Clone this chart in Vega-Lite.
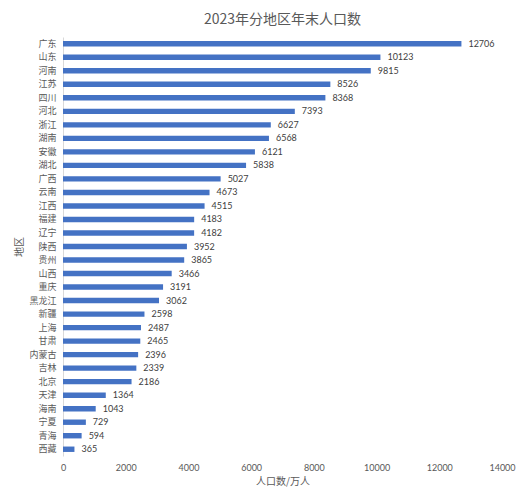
{
  "$schema": "https://vega.github.io/schema/vega-lite/v6.json",
  "autosize": "none",
  "padding": {"left": 63, "top": 37, "right": 23, "bottom": 44},
  "width": 439,
  "height": 419,
  "background": "white",
  "title": {
    "text": "2023年分地区年末人口数",
    "font": "Noto Sans CJK SC",
    "fontSize": 14,
    "fontWeight": "normal",
    "color": "#595959",
    "anchor": "middle",
    "offset": 10
  },
  "config": {"view": {"stroke": null}},
  "data": {
    "values": [
      {"region": "广东", "pop": 12706},
      {"region": "山东", "pop": 10123},
      {"region": "河南", "pop": 9815},
      {"region": "江苏", "pop": 8526},
      {"region": "四川", "pop": 8368},
      {"region": "河北", "pop": 7393},
      {"region": "浙江", "pop": 6627},
      {"region": "湖南", "pop": 6568},
      {"region": "安徽", "pop": 6121},
      {"region": "湖北", "pop": 5838},
      {"region": "广西", "pop": 5027},
      {"region": "云南", "pop": 4673},
      {"region": "江西", "pop": 4515},
      {"region": "福建", "pop": 4183},
      {"region": "辽宁", "pop": 4182},
      {"region": "陕西", "pop": 3952},
      {"region": "贵州", "pop": 3865},
      {"region": "山西", "pop": 3466},
      {"region": "重庆", "pop": 3191},
      {"region": "黑龙江", "pop": 3062},
      {"region": "新疆", "pop": 2598},
      {"region": "上海", "pop": 2487},
      {"region": "甘肃", "pop": 2465},
      {"region": "内蒙古", "pop": 2396},
      {"region": "吉林", "pop": 2339},
      {"region": "北京", "pop": 2186},
      {"region": "天津", "pop": 1364},
      {"region": "海南", "pop": 1043},
      {"region": "宁夏", "pop": 729},
      {"region": "青海", "pop": 594},
      {"region": "西藏", "pop": 365}
    ]
  },
  "encoding": {
    "y": {
      "field": "region",
      "type": "nominal",
      "sort": null,
      "title": "地区",
      "scale": {"paddingInner": 0.6, "paddingOuter": 0.3},
      "axis": {
        "domainColor": "#d9d9d9",
        "ticks": false,
        "labelFont": "Noto Sans CJK SC",
        "labelFontSize": 9,
        "labelColor": "#595959",
        "labelPadding": 7,
        "titleFont": "Noto Sans CJK SC",
        "titleFontSize": 10,
        "titleFontWeight": "normal",
        "titleColor": "#595959",
        "titlePadding": 4
      }
    },
    "x": {
      "field": "pop",
      "type": "quantitative",
      "title": "人口数/万人",
      "scale": {"domain": [0, 14000]},
      "axis": {
        "values": [0, 2000, 4000, 6000, 8000, 10000, 12000, 14000],
        "format": "d",
        "labelFlush": false,
        "grid": false,
        "domain": false,
        "ticks": false,
        "labelFont": "Lato",
        "labelFontSize": 9,
        "labelColor": "#595959",
        "labelPadding": 7,
        "titleFont": "Noto Sans CJK SC",
        "titleFontSize": 10,
        "titleFontWeight": "normal",
        "titleColor": "#595959",
        "titlePadding": 4
      }
    }
  },
  "layer": [
    {"mark": {"type": "bar", "color": "#4472C4"}},
    {
      "mark": {
        "type": "text",
        "align": "left",
        "dx": 7,
        "font": "Lato",
        "fontSize": 9,
        "color": "#404040"
      },
      "encoding": {"text": {"field": "pop", "type": "quantitative"}}
    }
  ]
}
